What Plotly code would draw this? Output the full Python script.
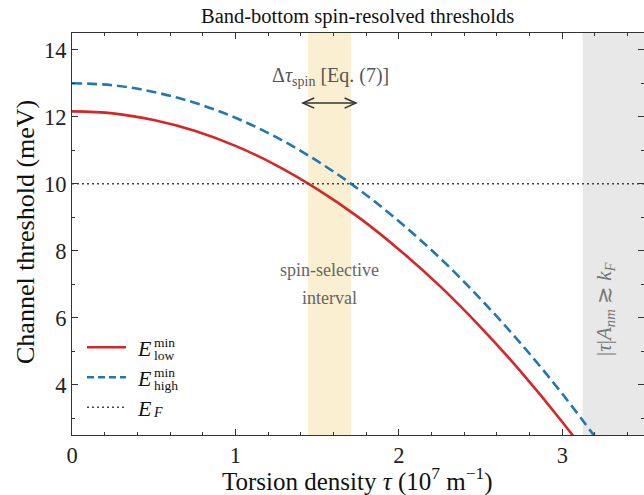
import plotly.graph_objects as go

# Torsion density samples (10^7 m^-1) and the two spin-split channel thresholds (meV)
tau = [0.0, 0.25, 0.5, 0.75, 1.0, 1.25, 1.5, 1.75, 2.0, 2.25, 2.5, 2.75, 3.0, 3.25]
e_low = [12.16, 12.10, 11.90, 11.58, 11.13, 10.55, 9.84, 9.01, 8.04, 6.95, 5.72, 4.37, 2.89, 1.28]
e_high = [13.00, 12.94, 12.74, 12.42, 11.97, 11.39, 10.68, 9.85, 8.88, 7.79, 6.56, 5.21, 3.73, 2.12]

# Fermi level (meV)
e_fermi = 10.0

# Spin-selective window and the strong-torsion region
spin_window = [1.445, 1.707]
strong_region_start = 3.125

x_range = [0.0, 3.5]
y_range = [2.5, 14.5]
x_ticks = [0, 1, 2, 3]
y_ticks = [4, 6, 8, 10, 12, 14]

RED = "#d62728"
BLUE = "#1f77b4"
FONT = "Liberation Serif"

W, H = 644, 495
ML, MR, MT, MB = 72, 0, 33, 60
PW, PH = W - ML - MR, H - MT - MB


def px(xp):
    return (xp - ML) / PW


def py(yp):
    return (H - MB - yp) / PH


fig = go.Figure()

fig.add_trace(go.Scatter(x=tau, y=e_low, mode="lines", line_shape="spline",
                         line=dict(color=RED, width=2.6), showlegend=False))
fig.add_trace(go.Scatter(x=tau, y=e_high, mode="lines", line_shape="spline",
                         line=dict(color=BLUE, width=2.6, dash="10px,5px"), showlegend=False))
fig.add_trace(go.Scatter(x=x_range, y=[e_fermi, e_fermi], mode="lines",
                         line=dict(color="#444444", width=1.6, dash="2px,3px"), showlegend=False))

# shaded regions
fig.add_shape(type="rect", xref="x", yref="paper", x0=spin_window[0], x1=spin_window[1],
              y0=0, y1=1, fillcolor="#faefd1", line_width=0, layer="below")
fig.add_shape(type="rect", xref="x", yref="paper", x0=strong_region_start, x1=x_range[1],
              y0=0, y1=1, fillcolor="#e8e8e8", line_width=0, layer="below")

# double-headed arrow marking the spin window width
ay = 12.41
ax0, ax1 = 1.412, 1.738
dxh, dyh = 0.07, 0.15
fig.add_shape(type="line", xref="x", yref="y", x0=ax0, x1=ax1, y0=ay, y1=ay,
              line=dict(color="#333333", width=1.4))
fig.add_shape(type="path", xref="x", yref="y",
              path=f"M {ax0 + dxh},{ay + dyh} L {ax0},{ay} L {ax0 + dxh},{ay - dyh}",
              line=dict(color="#333333", width=1.4))
fig.add_shape(type="path", xref="x", yref="y",
              path=f"M {ax1 - dxh},{ay + dyh} L {ax1},{ay} L {ax1 - dxh},{ay - dyh}",
              line=dict(color="#333333", width=1.4))

ann = []


def text(x, y, s, size, color="#111111", xanchor="center", yanchor="middle", angle=0):
    ann.append(dict(x=x, y=y, xref="paper", yref="paper", text=s, showarrow=False,
                    xanchor=xanchor, yanchor=yanchor, textangle=angle,
                    font=dict(family=FONT, size=size, color=color)))


# title
text(px(357), py(17), "Band-bottom spin-resolved thresholds", 20.5)
# axis titles
text(px(357), py(479), "Torsion density <i>τ</i> (10<sup>7</sup> m<sup>−1</sup>)", 25)
text(px(25), py(232), "Channel threshold (meV)", 26, angle=-90)

# in-plot labels
text(px(330), py(77), "Δ<i>τ</i><sub>spin</sub> [Eq. (7)]", 20, color="#555555")
text(px(329), py(270), "spin-selective", 18, color="#666666")
text(px(329), py(298), "interval", 18, color="#666666")
text(px(605), py(309), "|<i>τ</i>|<i>A</i><sub><i>nm</i></sub> ≳ <i>k</i><sub><i>F</i></sub>",
     21, color="#777777", angle=-90)

# legend drawn by hand so that super- and subscripts stack
rows = [
    (347.3, dict(color=RED, width=2.6), "min", "low"),
    (377.3, dict(color=BLUE, width=2.6, dash="7px,4px"), "min", "high"),
    (407.3, dict(color="#444444", width=1.6, dash="2px,3px"), None, "F"),
]
for yp, ln, sup, sub in rows:
    fig.add_shape(type="line", xref="paper", yref="paper", x0=px(87), x1=px(126),
                  y0=py(yp), y1=py(yp), line=ln)
    text(px(135), py(yp + 1), "<i>E</i>", 22, xanchor="left")
    if sup:
        text(px(152), py(yp - 4.5), sup, 13.5, xanchor="left")
        text(px(152), py(yp + 8), sub, 13.5, xanchor="left")
    else:
        text(px(151), py(yp + 5), f"<i>{sub}</i>", 14, xanchor="left")

axis_common = dict(showline=True, linecolor="#333333", linewidth=1, mirror="ticks",
                   ticks="inside", ticklen=6, tickwidth=1, tickcolor="#333333",
                   showgrid=False, zeroline=False,
                   tickfont=dict(family=FONT, size=22.5, color="#222222"))

fig.update_layout(
    width=W, height=H,
    margin=dict(l=ML, r=MR, t=MT, b=MB),
    plot_bgcolor="white", paper_bgcolor="white",
    xaxis=dict(range=x_range, tickvals=x_ticks, ticktext=[str(v) for v in x_ticks],
               minor=dict(dtick=0.2, ticks="inside", ticklen=3, tickcolor="#333333"),
               **axis_common),
    yaxis=dict(range=y_range, tickvals=y_ticks, ticktext=[str(v) for v in y_ticks],
               minor=dict(dtick=1, ticks="inside", ticklen=3, tickcolor="#333333"),
               **axis_common),
    annotations=ann,
    showlegend=False,
)

fig.write_html("out.html")
